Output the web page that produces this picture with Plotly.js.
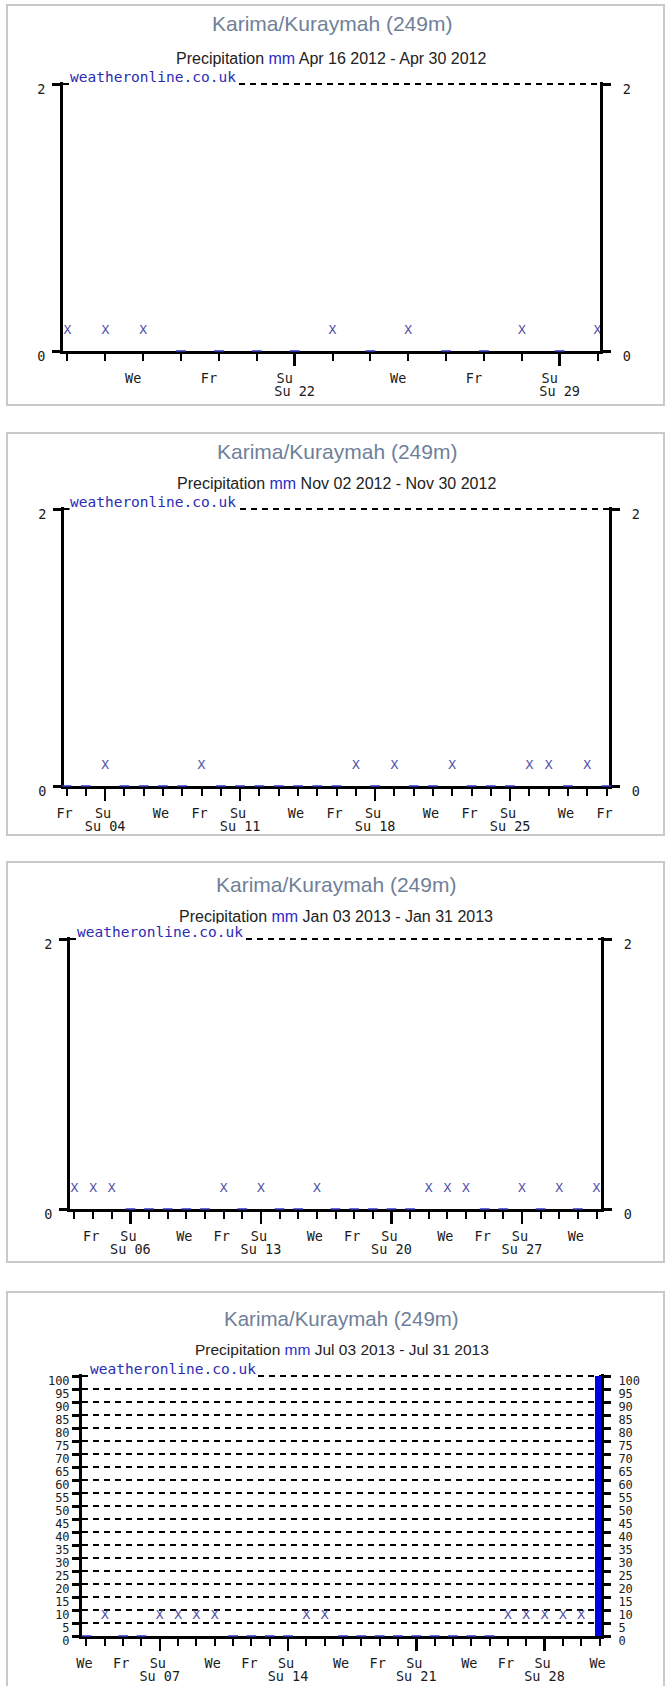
<!DOCTYPE html>
<html>
<head>
<meta charset="utf-8">
<script src="https://cdn.plot.ly/plotly-3.0.1.min.js"></script>
<style>
html, body { margin:0; padding:0; background:#ffffff; width:669px; height:1686px; overflow:hidden; position:relative; }
.box { position:absolute; left:6px; width:659px; border:2px solid #c9c9c9; box-sizing:border-box; background:#ffffff; }
.plot { position:absolute; left:0; width:669px; }
</style>
</head>
<body>
<div id="box1" class="box"></div>
<div id="box2" class="box"></div>
<div id="box3" class="box"></div>
<div id="box4" class="box"></div>
<div id="p1" class="plot"></div>
<div id="p2" class="plot"></div>
<div id="p3" class="plot"></div>
<div id="p4" class="plot"></div>
<script>
// ---------------- DATA ----------------
const stationName = 'Karima/Kuraymah (249m)';
const variableName = 'Precipitation';
const unitName = 'mm';
const sourceText = 'weatheronline.co.uk';

// Panel 1: Apr 2012
const p1Period = 'Apr 16 2012 - Apr 30 2012';
const p1Days   = [16,17,18,19,20,21,22,23,24,25,26,27,28,29,30];
const p1Precip = [null,null,null,0,0,0,0,null,0,null,0,0,null,0,null];
const p1LabelDays = [18,20,22,25,27,29];
const p1LabelText = ['We','Fr','Su','We','Fr','Su'];
const p1SunDays = [22,29];
const p1SunText = ['Su 22','Su 29'];
const p1YTicks = [0,2];

// Panel 2: Nov 2012
const p2Period = 'Nov 02 2012 - Nov 30 2012';
const p2Days   = [2,3,4,5,6,7,8,9,10,11,12,13,14,15,16,17,18,19,20,21,22,23,24,25,26,27,28,29,30];
const p2Precip = [0,0,null,0,0,0,0,null,0,0,0,0,0,0,0,null,0,null,0,0,null,0,0,0,null,null,0,null,0];
const p2LabelDays = [2,4,7,9,11,14,16,18,21,23,25,28,30];
const p2LabelText = ['Fr','Su','We','Fr','Su','We','Fr','Su','We','Fr','Su','We','Fr'];
const p2SunDays = [4,11,18,25];
const p2SunText = ['Su 04','Su 11','Su 18','Su 25'];
const p2YTicks = [0,2];

// Panel 3: Jan 2013
const p3Period = 'Jan 03 2013 - Jan 31 2013';
const p3Days   = [3,4,5,6,7,8,9,10,11,12,13,14,15,16,17,18,19,20,21,22,23,24,25,26,27,28,29,30,31];
const p3Precip = [null,null,null,0,0,0,0,0,null,0,null,0,0,null,0,0,0,0,0,null,null,null,0,0,null,0,null,0,null];
const p3LabelDays = [4,6,9,11,13,16,18,20,23,25,27,30];
const p3LabelText = ['Fr','Su','We','Fr','Su','We','Fr','Su','We','Fr','Su','We'];
const p3SunDays = [6,13,20,27];
const p3SunText = ['Su 06','Su 13','Su 20','Su 27'];
const p3YTicks = [0,2];

// Panel 4: Jul 2013
const p4Period = 'Jul 03 2013 - Jul 31 2013';
const p4Days   = [3,4,5,6,7,8,9,10,11,12,13,14,15,16,17,18,19,20,21,22,23,24,25,26,27,28,29,30,31];
const p4Precip = [0,null,0,0,null,null,null,null,0,0,0,0,null,null,0,0,0,0,0,0,0,0,0,null,null,null,null,null,100];
const p4LabelDays = [3,5,7,10,12,14,17,19,21,24,26,28,31];
const p4LabelText = ['We','Fr','Su','We','Fr','Su','We','Fr','Su','We','Fr','Su','We'];
const p4SunDays = [7,14,21,28];
const p4SunText = ['Su 07','Su 14','Su 21','Su 28'];
const p4YTicks = [0,5,10,15,20,25,30,35,40,45,50,55,60,65,70,75,80,85,90,95,100];

// ---------------- STYLE / LAYOUT ----------------
const MONO = 'DejaVu Sans Mono, monospace';
const SANS = 'Liberation Sans, Arial, sans-serif';
const W = 669;

const panels = [
  { id:'p1', box:'box1', period:p1Period, days:p1Days, precip:p1Precip, labelDays:p1LabelDays, labelText:p1LabelText,
    sunDays:p1SunDays, sunText:p1SunText, yTicks:p1YTicks,
    g:{boxTop:4, boxBottom:406, top:84, axis:353, left:61, right:602, firstPx:67, lastPx:598,
       title:23, sub:58, row1Shift:-10, row2Shift:3.5, titleSize:21, subSize:16, yFont:13.5,
       yStandL:4, yStandR:9, yTickLen:8, srcShift:6 } },
  { id:'p2', box:'box2', period:p2Period, days:p2Days, precip:p2Precip, labelDays:p2LabelDays, labelText:p2LabelText,
    sunDays:p2SunDays, sunText:p2SunText, yTicks:p2YTicks,
    g:{boxTop:432, boxBottom:836, top:509, axis:788, left:62, right:611, firstPx:66, lastPx:607,
       title:451, sub:483, row1Shift:-2, row2Shift:3.5, titleSize:21, subSize:16, yFont:13.5,
       yStandL:4, yStandR:9, yTickLen:8, srcShift:5 } },
  { id:'p3', box:'box3', period:p3Period, days:p3Days, precip:p3Precip, labelDays:p3LabelDays, labelText:p3LabelText,
    sunDays:p3SunDays, sunText:p3SunText, yTicks:p3YTicks,
    g:{boxTop:861, boxBottom:1263, top:939, axis:1211, left:68, right:603, firstPx:74, lastPx:597,
       title:884, sub:916, row1Shift:-2, row2Shift:3.5, titleSize:21, subSize:16, yFont:13.5,
       yStandL:4, yStandR:9, yTickLen:8, srcShift:6 } },
  { id:'p4', box:'box4', period:p4Period, days:p4Days, precip:p4Precip, labelDays:p4LabelDays, labelText:p4LabelText,
    sunDays:p4SunDays, sunText:p4SunText, yTicks:p4YTicks,
    g:{boxTop:1291, boxBottom:1700, top:1376, axis:1638, left:80, right:603, firstPx:86, lastPx:600,
       title:1318, sub:1349, row1Shift:-2, row2Shift:3.5, titleSize:20.5, subSize:15.5, yFont:12,
       yStandL:0, yStandR:5, yTickLen:7, srcShift:7 } }
];

function drawPanel(p) {
  const g = p.g;
  const boxEl = document.getElementById(p.box);
  boxEl.style.top = g.boxTop + 'px';
  boxEl.style.height = (g.boxBottom - g.boxTop) + 'px';
  const el = document.getElementById(p.id);
  const H = g.boxBottom - g.boxTop;
  el.style.top = g.boxTop + 'px';
  el.style.height = H + 'px';

  const EXTRA = 2; // px of headroom so the top grid line is kept
  const L = g.left + 1.5, R = g.right - 1.5, T = g.top, B = g.axis - 1.5;
  const d0 = p.days[0], d1 = p.days[p.days.length - 1];
  const k = (g.lastPx - g.firstPx) / (d1 - d0);
  const xr = [d0 - (g.firstPx - L) / k, d1 + (R - g.lastPx) / k];
  const y0 = p.yTicks[0], y1 = p.yTicks[p.yTicks.length - 1];
  const yr = [y0, y1 + (y1 - y0) * EXTRA / (B - T)];
  const Ttop = T - EXTRA;

  const tickText = p.days.map(d => {
    const i = p.labelDays.indexOf(d);
    return i >= 0 ? p.labelText[i] : '';
  });

  const barX = [], barY = [], zeroX = [], missX = [];
  p.days.forEach((d, i) => {
    const v = p.precip[i];
    if (v === null) missX.push(d);
    else if (v === 0) zeroX.push(d);
    else { barX.push(d); barY.push(v); }
  });

  const traces = [
    { type:'bar', x:barX, y:barY, width:0.5, marker:{color:'#0000e6', line:{width:0}},
      cliponaxis:false, hoverinfo:'skip', showlegend:false },
    { type:'scatter', mode:'markers', x:zeroX, y:zeroX.map(() => 0),
      marker:{symbol:'line-ew-open', size:7, color:'#3434c4', line:{width:1.5, color:'#3434c4'}},
      cliponaxis:false, hoverinfo:'skip', showlegend:false },
    { type:'scatter', mode:'markers+text', x:missX, y:missX.map(() => 0),
      text:missX.map(() => 'X'), textposition:'top center',
      textfont:{family:MONO, size:13, color:'#4f4fa8'},
      marker:{size:21, color:'rgba(0,0,0,0)'}, cliponaxis:true, hoverinfo:'skip', showlegend:false },
    { type:'scatter', mode:'markers', x:[], y:[], xaxis:'x', yaxis:'y2', showlegend:false, hoverinfo:'skip' },
    { type:'scatter', mode:'markers', x:[], y:[], xaxis:'x2', yaxis:'y', showlegend:false, hoverinfo:'skip' }
  ];

  const toPaperY = py => (B - py) / (B - Ttop);

  const layout = {
    width: W, height: H,
    margin: {l: L, r: W - R, t: Ttop - g.boxTop, b: g.boxTop + H - B, pad: 0},
    paper_bgcolor: 'rgba(0,0,0,0)', plot_bgcolor: 'rgba(0,0,0,0)',
    showlegend: false, bargap: 0,
    xaxis: {
      range: xr, fixedrange: true, showgrid: false, zeroline: false,
      showline: true, linewidth: 3, linecolor: '#000',
      ticks: 'outside', ticklen: 7, tickwidth: 2, tickcolor: '#000',
      tickmode: 'array', tickvals: p.days, ticktext: tickText,
      tickfont: {family: MONO, size: 13.5, color: '#1a1a1a'},
      ticklabelstandoff: 6, ticklabelshift: g.row1Shift,
      layer: 'below traces'
    },
    xaxis2: {
      overlaying: 'x', anchor: 'y', side: 'bottom',
      range: xr, fixedrange: true, showgrid: false, zeroline: false, showline: false,
      ticks: 'outside', ticklen: 14, tickwidth: 2.5, tickcolor: '#000',
      tickmode: 'array', tickvals: p.sunDays, ticktext: p.sunText,
      tickfont: {family: MONO, size: 13.5, color: '#1a1a1a'},
      ticklabelstandoff: 14, ticklabelshift: g.row2Shift,
      layer: 'below traces'
    },
    yaxis: {
      range: yr, fixedrange: true, zeroline: false,
      showline: true, linewidth: 3, linecolor: '#000',
      ticks: 'outside', ticklen: g.yTickLen, tickwidth: 3, tickcolor: '#000',
      tickmode: 'array', tickvals: p.yTicks, ticktext: p.yTicks.map(String),
      tickfont: {family: MONO, size: g.yFont, color: '#1a1a1a'},
      ticklabelstandoff: g.yStandL, ticklabelshift: 5,
      showgrid: true, gridcolor: '#000', gridwidth: 1.5, griddash: '6px,5px',
      layer: 'below traces'
    },
    yaxis2: {
      overlaying: 'y', anchor: 'x', side: 'right',
      range: yr, fixedrange: true, zeroline: false, showgrid: false,
      showline: true, linewidth: 3, linecolor: '#000',
      ticks: 'outside', ticklen: g.yTickLen, tickwidth: 3, tickcolor: '#000',
      tickmode: 'array', tickvals: p.yTicks, ticktext: p.yTicks.map(String),
      tickfont: {family: MONO, size: g.yFont, color: '#1a1a1a'},
      ticklabelstandoff: g.yStandR, ticklabelshift: 5,
      layer: 'below traces'
    },
    annotations: [
      { xref:'paper', yref:'paper', x:0.5, y:toPaperY(g.title), xanchor:'center', yanchor:'middle',
        showarrow:false, text:stationName, font:{family:SANS, size:g.titleSize, color:'#6f7f99'} },
      { xref:'paper', yref:'paper', x:0.5, y:toPaperY(g.sub), xanchor:'center', yanchor:'middle',
        showarrow:false, text:variableName + ' <span style="color:#2b2bc8">' + unitName + '</span> ' + p.period,
        font:{family:SANS, size:g.subSize, color:'#222222'} },
      { xref:'paper', yref:'paper', x:0, y:toPaperY(T), xanchor:'left', yanchor:'bottom', xshift:g.srcShift, yshift:-2,
        showarrow:false, text:sourceText, bgcolor:'#ffffff', borderpad:0,
        font:{family:MONO, size:14.5, color:'#2c2cb4'} }
    ]
  };

  Plotly.newPlot(el, traces, layout, {staticPlot: true, displayModeBar: false});
}

panels.forEach(drawPanel);
</script>
</body>
</html>
